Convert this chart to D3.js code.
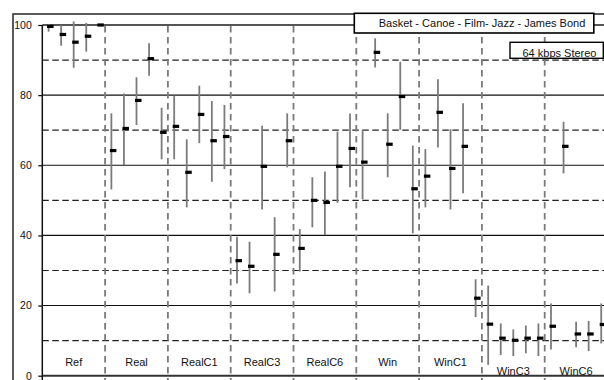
<!DOCTYPE html>
<html>
<head>
<meta charset="utf-8">
<script src="https://cdn.jsdelivr.net/npm/d3@7"></script>
<style>
  html, body { margin: 0; padding: 0; background: #fff; }
  svg { display: block; font-family: "Liberation Sans", Arial, sans-serif; }
</style>
</head>
<body>
<svg id="chart" width="604" height="380"></svg>
<script>
// Codec conditions (x groups) and test items (one error bar each per group)
const groups = ["Ref", "Real", "RealC1", "RealC3", "RealC6", "Win", "WinC1", "WinC3", "WinC6"];
const items = ["Basket", "Canoe", "Film", "Jazz", "James Bond"];

// Mean scores, one row per group, in item order
const means = [
  [99.6, 97.3, 95.1, 96.8, 100.0],
  [64.2, 70.5, 78.5, 90.4, 69.4],
  [71.1, 58.0, 74.5, 67.0, 68.2],
  [32.8, 31.2, 59.7, 34.6, 67.0],
  [36.3, 50.0, 49.4, 59.7, 64.8],
  [60.9, 92.2, 66.0, 79.6, 53.3],
  [56.9, 75.1, 59.1, 65.4, 22.1],
  [14.7, 10.7, 10.1, 10.7, 10.7],
  [14.1, 65.4, 11.9, 11.9, 14.6]
];
// Lower and upper ends of the confidence intervals
const lows = [
  [98.1, 94.1, 87.8, 92.4, 100.0],
  [53.1, 60.1, 71.5, 85.5, 61.7],
  [61.7, 48.0, 66.3, 55.3, 58.9],
  [26.3, 23.5, 47.4, 24.0, 59.4],
  [29.7, 42.3, 40.1, 49.3, 53.7],
  [50.3, 87.9, 56.6, 70.1, 40.6],
  [48.0, 65.1, 47.4, 52.0, 16.7],
  [3.1, 5.9, 5.6, 6.4, 5.6],
  [7.5, 57.7, 8.1, 7.0, 9.2]
];
const highs = [
  [100.3, 100.0, 101.0, 100.6, 100.0],
  [74.8, 80.5, 85.1, 94.8, 76.4],
  [79.8, 67.4, 82.7, 78.3, 77.2],
  [39.6, 38.2, 71.3, 45.2, 74.8],
  [41.8, 56.6, 58.2, 69.6, 74.8],
  [70.1, 96.2, 74.8, 89.5, 65.6],
  [64.6, 84.5, 70.3, 77.7, 27.5],
  [25.7, 14.9, 13.2, 14.3, 14.9],
  [20.6, 72.4, 15.4, 15.6, 20.6]
];
const yTicks = [0, 20, 40, 60, 80, 100];
const yMinorTicks = [10, 30, 50, 70, 90];
const legendTitle = "Basket - Canoe - Film- Jazz - James Bond";
const bitrateLabel = "64 kbps Stereo";

const svg = d3.select("#chart");
const W = 604, H = 380;

const x = d3.scaleBand().domain(groups).range([42.3, 607.5]).padding(0);
const xi = d3.scaleBand().domain(items).range([0, x.bandwidth()]).padding(0);
const y = d3.scaleLinear().domain([0, 100]).range([375.7, 25]);

// background and outer frame
svg.append("rect").attr("width", W).attr("height", H).attr("fill", "#fff");
svg.append("rect")
  .attr("x", 13).attr("y", 14).attr("width", W + 20).attr("height", H + 20)
  .attr("fill", "none").attr("stroke", "#333").attr("stroke-width", 1.6);

// horizontal grid: solid at major ticks, dashed halfway between
const grid = svg.append("g");
grid.selectAll("line.minor").data(yMinorTicks).join("line")
  .attr("class", "minor")
  .attr("x1", x.range()[0]).attr("x2", x.range()[1])
  .attr("y1", d => y(d)).attr("y2", d => y(d))
  .attr("stroke", "#222").attr("stroke-width", 1.2)
  .attr("stroke-dasharray", "6.5,3.5");
grid.selectAll("line.major").data(yTicks.filter(d => d > 0)).join("line")
  .attr("class", "major")
  .attr("x1", x.range()[0]).attr("x2", x.range()[1])
  .attr("y1", d => y(d)).attr("y2", d => y(d))
  .attr("stroke", d => d === 100 ? "#555" : "#111")
  .attr("stroke-width", d => d === 100 ? 2.2 : 1.1);

// dashed separators between groups
grid.selectAll("line.sep").data(groups.slice(1)).join("line")
  .attr("class", "sep")
  .attr("x1", d => x(d)).attr("x2", d => x(d))
  .attr("y1", y(100) + 1).attr("y2", H)
  .attr("stroke", "#7a7a7a").attr("stroke-width", 1.8)
  .attr("stroke-dasharray", "6.5,4.5");

// baseline at 0
svg.append("line")
  .attr("x1", x.range()[0]).attr("x2", x.range()[1])
  .attr("y1", y(0)).attr("y2", y(0))
  .attr("stroke", "#333").attr("stroke-width", 2);

// y axis
const yAxis = d3.axisLeft(y).tickValues(yTicks).tickSize(4).tickPadding(6.5).tickFormat(d3.format("d"));
const yg = svg.append("g").attr("transform", `translate(${x.range()[0]},0)`).call(yAxis);
yg.select(".domain").remove();
yg.selectAll(".tick line").attr("stroke", "#000").attr("stroke-width", 1.2);
yg.selectAll(".tick text").attr("font-size", 10.5).attr("fill", "#111")
  .attr("font-family", "Liberation Sans, Arial, sans-serif");
svg.append("line")
  .attr("x1", x.range()[0]).attr("x2", x.range()[0])
  .attr("y1", y(100)).attr("y2", H)
  .attr("stroke", "#111").attr("stroke-width", 1.5);

// error bars and mean markers
const points = [];
groups.forEach((g, gi) => items.forEach((it, ii) => {
  points.push({ g, it, m: means[gi][ii], lo: lows[gi][ii], hi: highs[gi][ii] });
}));
const cx = d => x(d.g) + xi(d.it) + xi.bandwidth() / 2;

const bars = svg.append("g");
bars.selectAll("line").data(points.filter(d => d.hi > d.lo)).join("line")
  .attr("x1", cx).attr("x2", cx)
  .attr("y1", d => y(d.hi)).attr("y2", d => y(d.lo))
  .attr("stroke", "#7b7b7b").attr("stroke-width", 1.8);
bars.selectAll("rect").data(points).join("rect")
  .attr("x", d => cx(d) - 1.5).attr("width", 6.5)
  .attr("y", d => y(d.m) - 1.6).attr("height", 3.2)
  .attr("fill", "#000");

// group labels along the bottom
const lowered = new Set(["WinC3", "WinC6"]);
svg.append("g").selectAll("text").data(groups).join("text")
  .attr("x", d => x(d) + x.bandwidth() / 2)
  .attr("y", d => lowered.has(d) ? 375.3 : 366.3)
  .attr("text-anchor", "middle")
  .attr("font-size", 11).attr("fill", "#111")
  .text(d => d);

// title boxes
svg.append("rect").attr("x", 354.3).attr("y", 13.3).attr("width", 239.5).attr("height", 19.7)
  .attr("fill", "#fff").attr("stroke", "#000").attr("stroke-width", 1.6);
svg.append("text").attr("x", 482).attr("y", 26.5).attr("text-anchor", "middle")
  .attr("font-size", 11).attr("fill", "#111").text(legendTitle);
svg.append("rect").attr("x", 510).attr("y", 42.3).attr("width", 93.3).attr("height", 16)
  .attr("fill", "#fff").attr("stroke", "#000").attr("stroke-width", 1.4);
svg.append("text").attr("x", 559.5).attr("y", 56.8).attr("text-anchor", "middle")
  .attr("font-size", 11).attr("fill", "#111").text(bitrateLabel);
</script>
</body>
</html>
